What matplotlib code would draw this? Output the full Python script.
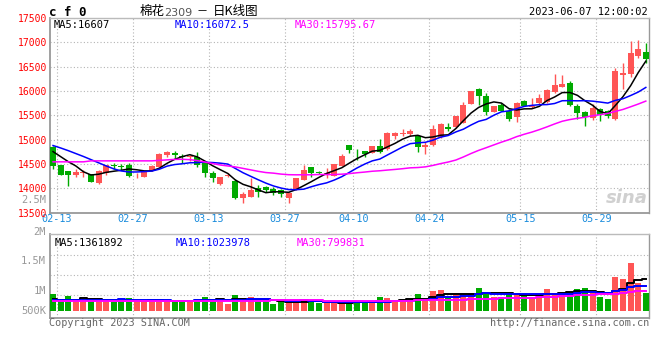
import matplotlib
matplotlib.use('Agg')
import matplotlib.pyplot as plt
import numpy as np
import pandas as pd

# trading days, 2023-02-13 .. 2023-06-07 (exchange holidays removed)
days = pd.bdate_range('2023-02-13', '2023-06-07')
days = days[~days.isin(pd.to_datetime(['2023-04-05', '2023-05-01', '2023-05-02', '2023-05-03']))]
dates = days.strftime('%m-%d').tolist()
label_dates = ['02-13', '02-27', '03-13', '03-27', '04-10', '04-24', '05-15', '05-29']

opens = [14844, 14481, 14358, 14276, 14310, 14289, 14105, 14324, 14481, 14454,
         14481, 14269, 14242, 14358, 14447, 14686, 14720, 14666, 14638, 14652,
         14515, 14324, 14098, 14248, 14159, 13797, 13831, 14002, 14029, 13981,
         13968, 13797, 13968, 14173, 14433, 14337, 14303, 14262, 14467, 14892,
         14796, 14762, 14734, 14871, 14803, 15076, 15117, 15117, 15076, 14844,
         14892, 15049, 15268, 15268, 15350, 15733, 16041, 15898, 15576, 15713,
         15596, 15473, 15802, 15679, 15761, 15781, 15973, 16089, 16171, 15692,
         15576, 15439, 15631, 15590, 15418, 16329, 16349, 16726, 16808]
highs = [14871, 14490, 14365, 14392, 14378, 14300, 14370, 14480, 14529, 14502,
         14515, 14317, 14365, 14481, 14720, 14775, 14762, 14707, 14686, 14741,
         14515, 14365, 14240, 14310, 14200, 13934, 14221, 14070, 14050, 14022,
         13995, 13920, 14215, 14481, 14440, 14365, 14413, 14500, 14707, 14900,
         14803, 14770, 14880, 15008, 15150, 15165, 15213, 15220, 15080, 14960,
         15302, 15340, 15336, 15495, 15781, 16010, 16069, 15966, 15700, 15747,
         15624, 15781, 15810, 15850, 15932, 16041, 16342, 16329, 16205, 15726,
         15590, 15726, 15644, 15610, 16466, 16568, 17020, 17040, 16979]
lows = [14399, 14270, 14057, 14242, 14228, 14125, 14098, 14276, 14392, 14378,
        14242, 14207, 14235, 14351, 14440, 14652, 14611, 14515, 14570, 14447,
        14242, 14132, 14071, 14240, 13783, 13694, 13825, 13831, 13934, 13858,
        13831, 13708, 13960, 14166, 14242, 14296, 14207, 14255, 14460, 14734,
        14584, 14652, 14727, 14734, 14796, 15015, 15076, 15076, 14755, 14707,
        14878, 15040, 15186, 15234, 15340, 15725, 15713, 15507, 15570, 15590,
        15384, 15371, 15685, 15644, 15733, 15761, 15952, 16075, 15692, 15418,
        15282, 15405, 15384, 15439, 15405, 16050, 16294, 16671, 16568]
closes = [14467, 14283, 14283, 14344, 14330, 14132, 14365, 14474, 14460, 14433,
          14262, 14283, 14358, 14460, 14714, 14755, 14693, 14638, 14659, 14481,
          14324, 14221, 14235, 14269, 13804, 13886, 13968, 13920, 13975, 13899,
          13886, 13913, 14207, 14378, 14310, 14324, 14317, 14495, 14673, 14789,
          14782, 14707, 14871, 14755, 15145, 15145, 15145, 15172, 14844, 14899,
          15220, 15323, 15213, 15487, 15713, 16000, 15898, 15576, 15692, 15596,
          15425, 15761, 15692, 15699, 15850, 16021, 16123, 16144, 15713, 15555,
          15460, 15658, 15507, 15487, 16411, 16363, 16773, 16855, 16664]
volumes = [760000, 530000, 670000, 480000, 480000, 480000, 530000, 440000, 380000, 450000,
           570000, 440000, 450000, 440000, 530000, 440000, 410000, 410000, 410000, 530000,
           610000, 530000, 470000, 310000, 700000, 530000, 610000, 440000, 440000, 310000,
           380000, 380000, 480000, 480000, 410000, 340000, 360000, 340000, 340000, 440000,
           440000, 340000, 340000, 610000, 570000, 410000, 480000, 480000, 760000, 530000,
           890000, 920000, 580000, 700000, 670000, 760000, 1020000, 850000, 630000, 630000,
           800000, 770000, 670000, 580000, 760000, 960000, 700000, 850000, 850000, 960000,
           1020000, 800000, 630000, 530000, 1510000, 1400000, 2120000, 1240000, 770000]

# moving-average values before a full window exists
ma5_head = [14755, 14652, 14549, 14460]
ma10_head = [14880, 14830, 14775, 14715, 14655, 14590, 14525, 14460, 14400]
ma30_head = [14545, 14545, 14545, 14545, 14545, 14565, 14565, 14565, 14565, 14565,
             14565, 14565, 14565, 14565, 14575, 14585, 14595, 14597, 14590, 14570,
             14540, 14510, 14480, 14460, 14440, 14410, 14380, 14350, 14325]
vma5_head = [520000, 500000, 500000, 490000]
vma10_head = [480000] * 9
vma30_head = [430000] * 29

RED = '#ff5555'
GREEN = '#00aa00'
GRID = '#b4b4b4'
SPINE = '#999999'
MONO = 'DejaVu Sans Mono'
CJK = ['Noto Sans CJK SC', 'DejaVu Sans']


def with_head(values, n, head):
    s = pd.Series(values, dtype=float).rolling(n).mean()
    s.iloc[:len(head)] = head
    return s.values


W, H = 660, 360
fig = plt.figure(figsize=(6.6, 3.6), dpi=100)
fig.patch.set_facecolor('white')


def px(x, y):
    return x / W, 1 - y / H


ax = fig.add_axes([50 / W, 1 - 212.7 / H, 599 / W, (212.7 - 18) / H])
axv = fig.add_axes([50 / W, 1 - 317.7 / H, 599 / W, (317.7 - 234) / H])

x = np.arange(len(closes))
o = np.array(opens); c = np.array(closes)
up = c >= o
colors = np.where(up, RED, GREEN)

# --- price candles ---
ax.vlines(x, lows, highs, colors=colors, lw=1, zorder=3)
body = np.maximum(np.abs(c - o), 14)
ax.bar(x, body, bottom=np.minimum(o, c), width=0.78, color=colors, lw=0, zorder=4)

ax.plot(x, with_head(closes, 5, ma5_head), color='black', lw=1.1, zorder=5)
ax.plot(x, with_head(closes, 10, ma10_head), color='#0000ff', lw=1.1, zorder=5)
ax.plot(x, with_head(closes, 30, ma30_head), color='#ff00ff', lw=1.1, zorder=5)

xlim = (-0.4, 78.42)
ticks = [dates.index(d) + 0.5 for d in label_dates]

ax.set_xlim(*xlim)
ax.set_ylim(13500, 17500)
ax.set_yticks(range(13500, 17501, 500))
ax.set_yticklabels([str(v) for v in range(13500, 17501, 500)], color='#ff0000',
                   fontsize=7, family=MONO)
ax.set_xticks(ticks)
ax.set_xticklabels(label_dates, color='#1a8cdc', fontsize=7.3, family=MONO)
ax.tick_params(length=0, pad=2)
ax.tick_params(axis='x', pad=1)

# --- volume ---
v = np.array(volumes)
axv.bar(x, v, width=0.78, color=colors, lw=0, zorder=3)
axv.plot(x, with_head(volumes, 5, vma5_head), color='black', lw=1.4, drawstyle='steps-mid', zorder=4)
axv.plot(x, with_head(volumes, 10, vma10_head), color='#0000ff', lw=1.4, drawstyle='steps-mid', zorder=4)
axv.plot(x, with_head(volumes, 30, vma30_head), color='#ff00ff', lw=1.4, drawstyle='steps-mid', zorder=4)
axv.set_xlim(*xlim)
axv.set_ylim(-294000, 3377000)
axv.set_yticks([702000, 1579000, 2456000])
axv.set_yticklabels([])
axv.set_xticks(ticks)
axv.set_xticklabels([])
axv.tick_params(length=0)

for a in (ax, axv):
    a.grid(True, color=GRID, lw=0.8, linestyle=(0, (1, 2)))
    a.set_axisbelow(True)
    for side, sp in a.spines.items():
        sp.set_color(SPINE)
        sp.set_linewidth(1.3 if side in ('left', 'bottom') else 1.0)
    a.spines['top'].set_color('#bbbbbb')


# --- texts ---
def txt(xp, yp, s, **kw):
    fx, fy = px(xp, yp)
    fig.text(fx, fy, s, va='center', **kw)


txt(49, 12, 'c f 0', fontsize=9, fontweight='bold', family=MONO, color='black')
txt(140, 12, '棉花', fontsize=9, family=CJK, color='black')
txt(164, 12.5, '2309', fontsize=8, family='DejaVu Sans', color='#555555')
txt(196, 12, '－', fontsize=8, family=CJK, color='black')
txt(213, 12, '日K线图', fontsize=9, family=CJK, color='black')
txt(648, 12, '2023-06-07 12:00:02', fontsize=7.5, family=MONO, color='black', ha='right')

txt(54, 25.5, 'MA5:16607', fontsize=7.5, family=MONO, color='black')
txt(175, 25.5, 'MA10:16072.5', fontsize=7.5, family=MONO, color='#0000ff')
txt(295, 25.5, 'MA30:15795.67', fontsize=7.5, family=MONO, color='#ff00ff')

txt(55, 243, 'MA5:1361892', fontsize=7.5, family=MONO, color='black')
txt(176, 243, 'MA10:1023978', fontsize=7.5, family=MONO, color='#0000ff')
txt(297, 243, 'MA30:799831', fontsize=7.5, family=MONO, color='#ff00ff')

for lbl, yy in [('2.5M', 200), ('2M', 232), ('1.5M', 261), ('1M', 291), ('500K', 311)]:
    txt(46, yy, lbl, fontsize=7.5, family=MONO, color='#999999', ha='right')

txt(49, 323.5, 'Copyright 2023 SINA.COM', fontsize=7.3, family=MONO, color='#666666')
txt(649, 323.5, 'http://finance.sina.com.cn', fontsize=7.3, family=MONO, color='#666666', ha='right')

# sina watermark
txt(648, 198, 'sina', fontsize=13, fontweight='bold', style='italic', color='#d0d0d0',
    ha='right', family='DejaVu Sans')

fig.savefig('out.png', dpi=100, facecolor='white')
